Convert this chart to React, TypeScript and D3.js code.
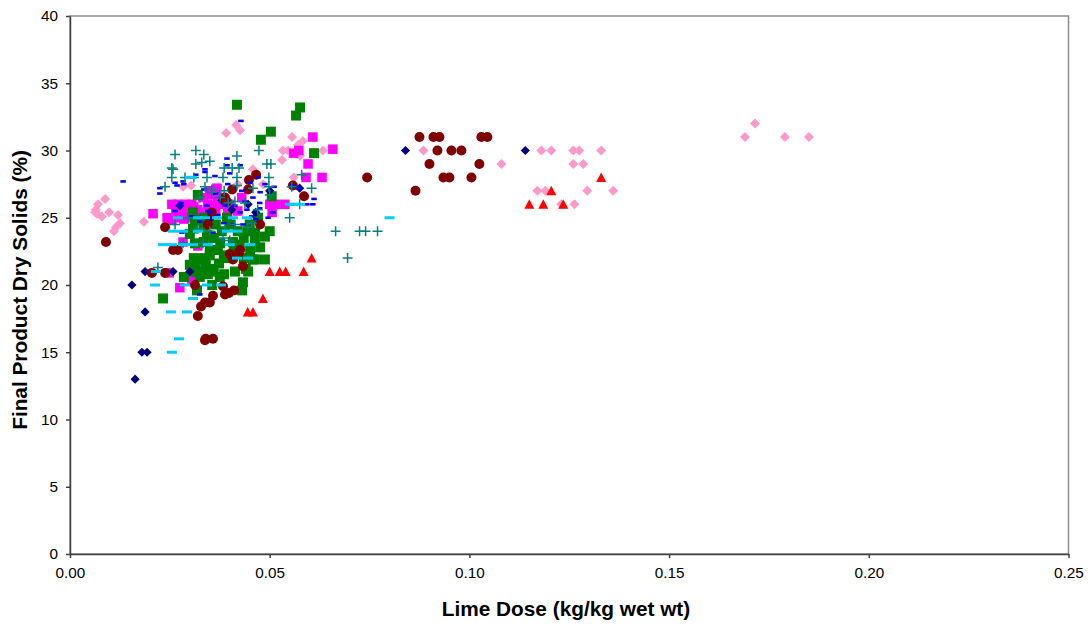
import React, { useRef, useEffect } from 'react';
import { select, scaleLinear, axisBottom, axisLeft, symbol, symbolCircle } from 'd3';

type Pt = [number, number];

// values: [lime dose, dry solids]
const pinkDiamonds: Pt[] = [[0.0088,26.4],[0.007,26],[0.0063,25.4],[0.0068,25.3],[0.008,25.1],[0.0098,25.4],[0.012,25.2],[0.0065,25.6],[0.011,24],[0.0115,24.3],[0.0125,24.6],[0.0185,24.7],[0.0283,27.3],[0.0303,27.4],[0.0391,31.3],[0.0416,31.9],[0.0426,31.5],[0.0458,28.6],[0.0483,27.5],[0.0556,31],[0.0583,30.7],[0.0571,30.4],[0.0533,30],[0.0546,30],[0.0633,30],[0.0576,29.6],[0.0531,29.3],[0.056,28],[0.035,27],[0.042,27.5],[0.0885,30],[0.0955,30],[0.108,29],[0.117,27],[0.119,27],[0.118,30],[0.1205,30],[0.126,30],[0.1275,30],[0.133,30],[0.126,29],[0.1285,29],[0.1295,27],[0.136,27],[0.123,26],[0.1263,26],[0.169,31],[0.1715,32],[0.179,31],[0.185,31]];
const magentaSquares: Pt[] = [[0.0208,25.3],[0.0243,25],[0.0255,24.8],[0.027,26],[0.029,26],[0.0305,26],[0.031,25.8],[0.0333,26.5],[0.0345,26],[0.0368,27.2],[0.0355,26.7],[0.035,27],[0.0375,26.5],[0.0385,26],[0.04,26],[0.042,25.5],[0.0325,25],[0.0285,24.9],[0.03,25],[0.034,25.2],[0.0365,25.5],[0.0395,25.3],[0.0283,23.2],[0.0275,19.8],[0.0248,20.9],[0.0305,20.4],[0.032,22.9],[0.05,26],[0.0506,25.4],[0.0515,26],[0.0538,26],[0.0608,31],[0.0658,30.1],[0.0573,30],[0.056,29.8],[0.0596,29],[0.0591,28],[0.0631,28],[0.027,25],[0.043,26.5],[0.0255,26],[0.0265,25.5],[0.028,25.4],[0.0295,25.5],[0.032,25.6],[0.0335,25.4],[0.0355,25.9],[0.037,26.1]];
const greenSquares: Pt[] = [[0.0418,33.4],[0.0576,33.2],[0.0566,32.6],[0.0503,31.4],[0.0478,30.8],[0.0611,29.8],[0.0233,19],[0.0285,20.6],[0.0308,21],[0.0325,21.9],[0.0333,21],[0.0386,20.8],[0.0356,20],[0.0318,19.6],[0.0431,19.6],[0.0433,20.2],[0.0413,21],[0.0373,21.6],[0.035,22.2],[0.0463,21.9],[0.0463,23.3],[0.0451,22.6],[0.0408,23.2],[0.0376,23.1],[0.035,22.6],[0.0313,23.1],[0.0308,25.4],[0.0313,24.8],[0.0343,23.7],[0.0308,24.2],[0.0393,25],[0.0463,23.9],[0.05,24],[0.0488,23.6],[0.0476,22.8],[0.0488,21.9],[0.0458,21.9],[0.0446,21],[0.0471,25],[0.032,26.7],[0.0345,20.8],[0.036,21],[0.0385,22.2],[0.0325,20.6],[0.042,24],[0.0435,23.5],[0.038,24],[0.0365,24.5],[0.0335,25],[0.0505,26.6],[0.03,23.8],[0.03,21.5],[0.0315,21.3],[0.0335,22],[0.034,21.5],[0.037,22.6],[0.039,22],[0.041,22.5],[0.0425,23],[0.0435,22],[0.044,21.2],[0.031,22],[0.036,23.5],[0.04,24.5],[0.0445,24],[0.045,24.5],[0.0335,24.3],[0.0335,23.2],[0.0355,21.2],[0.0375,20.6]];
const navyDiamonds: Pt[] = [[0.0163,13],[0.018,15],[0.0193,15],[0.0188,18],[0.0155,20],[0.0188,21],[0.0258,21],[0.03,21],[0.084,30],[0.114,30],[0.05,27],[0.0446,26],[0.0575,27.2],[0.0275,25.9],[0.035,24.9],[0.0405,25.6],[0.0465,25.4],[0.038,26.3]];
const maroonCircles: Pt[] = [[0.009,23.2],[0.0238,24.3],[0.0258,22.6],[0.027,22.6],[0.0205,20.9],[0.0238,20.9],[0.0313,20],[0.032,17.7],[0.0328,18.4],[0.0338,18.7],[0.035,18.7],[0.0358,19.2],[0.034,16],[0.0338,15.9],[0.0358,16],[0.0383,19.9],[0.0388,19.3],[0.0398,19.4],[0.0411,19.6],[0.04,22.3],[0.0426,22.6],[0.0423,22.4],[0.0408,21.9],[0.0433,21.4],[0.0355,25.4],[0.0476,24.5],[0.0466,28.2],[0.0448,27.8],[0.0446,27.1],[0.0406,27.1],[0.0388,26.5],[0.0393,26.2],[0.0558,27.4],[0.0586,26.6],[0.0744,28],[0.0865,27],[0.0875,31],[0.091,31],[0.0925,31],[0.09,29],[0.092,30],[0.0935,28],[0.095,28],[0.0955,30],[0.098,30],[0.1005,28],[0.1025,29],[0.103,31],[0.1045,31],[0.0345,24.5]];
const blueDashes: Pt[] = [[0.0133,27.7],[0.0428,32.2],[0.0225,27.2],[0.0225,26.8],[0.0263,27.6],[0.0268,27.4],[0.0283,27.7],[0.0285,27.5],[0.0315,28.2],[0.0338,28.6],[0.0338,28.4],[0.0363,28.1],[0.0393,29.4],[0.0393,28.9],[0.04,28.3],[0.0426,28.9],[0.0451,27.6],[0.0488,27.5],[0.0511,27.3],[0.0476,26.9],[0.0508,25.4],[0.0438,26.2],[0.0413,25.9],[0.0443,25.6],[0.0343,25.9],[0.0275,25.9],[0.0278,26.1],[0.0388,25.9],[0.0458,26.5],[0.0263,25.5],[0.035,25.4],[0.028,23.9],[0.0358,23.9],[0.0426,25.4],[0.0408,24.5],[0.0325,19.3],[0.0471,28],[0.0558,27.4],[0.0571,27.2],[0.0611,26.4],[0.0593,26],[0.0608,26],[0.0496,25],[0.0433,24.5],[0.0365,26.8],[0.0345,25.5],[0.037,25.2],[0.0455,25.1],[0.0475,25.7],[0.0465,24.9],[0.0325,24.7],[0.0305,25.1],[0.0385,24.6],[0.043,27],[0.0395,27.5],[0.0335,27.1],[0.0475,26.1]];
const tealPlus: Pt[] = [[0.0263,29.7],[0.0315,30],[0.0335,29.7],[0.0315,29],[0.033,29.1],[0.035,29.2],[0.0418,29.6],[0.0473,30],[0.0493,29],[0.0503,29],[0.0255,28.7],[0.0258,28.6],[0.0255,28],[0.0238,27.3],[0.0288,28],[0.031,28],[0.0343,28],[0.0338,27.3],[0.0386,28.7],[0.0406,28.7],[0.0423,28.7],[0.0383,28],[0.0418,28],[0.0498,28],[0.0418,27.4],[0.0355,27.1],[0.0386,27],[0.0458,27.2],[0.0498,27.3],[0.05,26.7],[0.0325,26.5],[0.0355,26.9],[0.0376,26.5],[0.0396,26.1],[0.0413,26.2],[0.0438,26.1],[0.047,25.6],[0.0295,25],[0.0263,24.5],[0.0388,24.1],[0.0413,24.5],[0.0383,23.5],[0.04,23.3],[0.0333,23.1],[0.0283,23.1],[0.055,25],[0.058,28.2],[0.0555,27.3],[0.0605,27.2],[0.0575,26],[0.0665,24],[0.0725,24],[0.074,24],[0.077,24],[0.0695,22],[0.022,21.3],[0.032,24.2],[0.035,24],[0.0445,24.3],[0.0455,24.6]];
const cyanDashes: Pt[] = [[0.0273,16],[0.0255,15],[0.0253,18],[0.0293,18],[0.0213,20],[0.0308,19],[0.0288,20],[0.0343,20],[0.0378,20],[0.0215,21],[0.0233,23],[0.0255,23],[0.0283,23],[0.0308,23],[0.0345,23],[0.04,23],[0.0451,23],[0.0418,22],[0.0446,22],[0.027,25],[0.0258,24],[0.0283,24],[0.032,24],[0.0393,24],[0.0418,24],[0.032,25],[0.0338,25],[0.0368,25],[0.0408,25],[0.0443,25],[0.0551,26],[0.056,26],[0.0576,26],[0.03,28],[0.0305,28],[0.08,25]];
const redTriangles: Pt[] = [[0.0445,18],[0.0458,18],[0.0483,19],[0.05,21],[0.0525,21],[0.054,21],[0.0585,21],[0.0605,22],[0.115,26],[0.1185,26],[0.1205,27],[0.1235,26],[0.133,28]];

const xTicks = [0, 0.05, 0.1, 0.15, 0.2, 0.25];
const yTicks = [0, 5, 10, 15, 20, 25, 30, 35, 40];

const FONT = '"Liberation Sans", Arial, sans-serif';

const App = () => {
  const svgRef = useRef<SVGSVGElement>(null);

  useEffect(() => {
    const svg = select(svgRef.current);
    const xScale = scaleLinear().domain([0, 0.25]).range([70, 1068.5]);
    const yScale = scaleLinear().domain([0, 40]).range([554, 16]);

    // plot frame, only the grey top and right edges show
    svg.select('.frame')
      .attr('x', 70).attr('y', 16).attr('width', 998.5).attr('height', 538)
      .attr('fill', 'none').attr('stroke', '#8c8c8c').attr('stroke-width', 1.5);

    const rect = (w: number, h: number) => `M${-w / 2},${-h / 2}h${w}v${h}h${-w}Z`;
    const diamond = (r: number) => `M0,${-r}L${r},0L0,${r}L${-r},0Z`;

    const series: [string, Pt[], string, string, boolean?][] = [
      ['pink', pinkDiamonds, diamond(5), '#ff99cc'],
      ['magenta', magentaSquares, rect(9.5, 9.5), '#ff00ff'],
      ['green', greenSquares, rect(10, 10), '#008000'],
      ['navy', navyDiamonds, diamond(4.6), '#000080'],
      ['maroon', maroonCircles, symbol().type(symbolCircle).size(78)() as string, '#800000'],
      ['blue', blueDashes, rect(5.5, 2.6), '#0000ff'],
      ['teal', tealPlus, 'M-5,0H5M0,-5V5', '#008080', true],
      ['cyan', cyanDashes, rect(10, 3), '#00ccff'],
      ['red', redTriangles, 'M0,-5L5,4.5L-5,4.5Z', '#ff0000'],
    ];

    series.forEach(([name, pts, d, color, stroked]) => {
      svg.select('.marks')
        .selectAll(`.${name}`)
        .data(pts)
        .join('path')
        .attr('class', name)
        .attr('transform', (p) => `translate(${xScale(p[0])},${yScale(p[1])})`)
        .attr('d', d)
        .attr('fill', stroked ? 'none' : color)
        .attr('stroke', stroked ? color : 'none')
        .attr('stroke-width', stroked ? 1.5 : 0);
    });

    const xAxis = axisBottom(xScale).tickValues(xTicks).tickFormat((v: any) => v.toFixed(2)).tickSize(4).tickSizeOuter(0).tickPadding(9);
    svg.select('.x-axis').attr('transform', 'translate(0,554)').call(xAxis as any);
    const yAxis = axisLeft(yScale).tickValues(yTicks).tickSize(4).tickSizeOuter(0).tickPadding(8);
    svg.select('.y-axis').attr('transform', 'translate(70,0)').call(yAxis as any);

    svg.selectAll('.x-axis text, .y-axis text')
      .attr('font-family', FONT)
      .attr('font-size', 15.3)
      .attr('fill', '#000');
    svg.selectAll('.x-axis path, .x-axis line, .y-axis path, .y-axis line')
      .attr('stroke', '#404040').attr('stroke-width', 1.5);
  }, []);

  return (
    <svg ref={svgRef} width={1091} height={625} style={{ position: 'absolute', left: 0, top: 0, background: '#fff' }}>
      <rect className="frame" />
      <g className="marks" />
      <g className="x-axis" />
      <g className="y-axis" />
      <text x={566} y={616} textAnchor="middle" fontFamily={FONT} fontWeight="bold" fontSize={20.8}>
        Lime Dose (kg/kg wet wt)
      </text>
      <text transform="translate(27,290) rotate(-90)" textAnchor="middle" fontFamily={FONT} fontWeight="bold" fontSize={20.8}>
        Final Product Dry Solids (%)
      </text>
    </svg>
  );
};

export default App;
